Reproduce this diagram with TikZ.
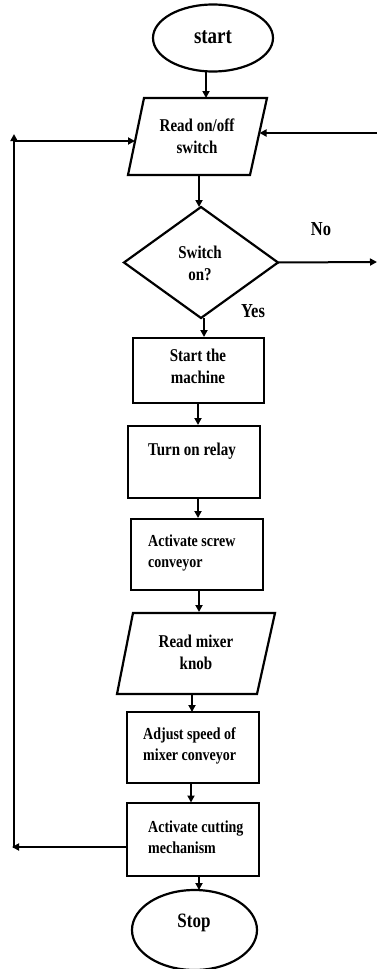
\documentclass[tikz,border=0pt]{standalone}
\usepackage{fontspec}
\usepackage{graphicx}
\setmainfont{Liberation Serif}
\usetikzlibrary{arrows.meta,shapes.geometric}
\newcommand\tallc[1]{\scalebox{1}[1.2]{\begin{tabular}{@{}c@{}}#1\end{tabular}}}
\newcommand\talll[1]{\scalebox{1}[1.2]{\begin{tabular}{@{}l@{}}#1\end{tabular}}}
\begin{document}
\begin{tikzpicture}[x=1pt,y=-1pt,
  arr/.style={line width=2pt,-{Triangle[length=7pt,width=7pt]}},
  shp/.style={draw,line width=2.2pt,inner sep=0pt,outer sep=0pt},
  boxnode/.style={shp,rectangle},
  big/.style={font=\bfseries\fontsize{15}{19}\selectfont,inner sep=0pt},
  small/.style={font=\bfseries\fontsize{14}{17.5}\selectfont,inner sep=0pt},
  tag/.style={font=\bfseries\fontsize{16.5}{20}\selectfont,inner sep=0pt}]
\useasboundingbox (0,0) rectangle (377,969);
\clip (0,0) rectangle (377,969);

% start
\node[shp,ellipse,minimum width=120pt,minimum height=67pt] (start) at (213,38) {};
\node[font=\bfseries\fontsize{19}{22}\selectfont,inner sep=0pt] (starttxt) at (213,38) {\tallc{start}};

% read on/off switch (parallelogram)
\coordinate (rTL) at (144,98);
\coordinate (rTR) at (267,98);
\coordinate (rBR) at (250,175);
\coordinate (rBL) at (128,175);
\draw[line width=2.2pt,line join=miter] (rTL) -- (rTR) -- (rBR) -- (rBL) -- cycle;
\node[big] (read) at (197,138) {\tallc{Read on/off\\switch}};
\coordinate (readin) at (206,98);
\coordinate (readout) at (199,175);
\coordinate (readL) at (135,141);
\coordinate (readR) at (259.5,133);

% decision
\node[shp,diamond,minimum width=154pt,minimum height=111pt] (dec) at (201,262.5) {};
\node[big] (dectxt) at (200,265) {\tallc{Switch\\on?}};
\node[tag] (no) at (321,231) {\tallc{No}};
\node[tag] (yes) at (253,313) {\tallc{Yes}};

% start machine
\node[boxnode,minimum width=131pt,minimum height=65pt] (machine) at (198.5,370.5) {};
\node[big] (machinetxt) at (198,368) {\tallc{Start the\\machine}};

% relay
\node[boxnode,minimum width=132pt,minimum height=72pt] (relay) at (194,462) {};
\node[big] (relaytxt) at (192,451) {\tallc{Turn on relay}};

% screw conveyor
\node[boxnode,minimum width=132pt,minimum height=71pt] (screw) at (197,554.5) {};
\node[small,anchor=west] (screwtxt) at (148,552.5) {\talll{Activate screw\\conveyor}};

% read mixer knob
\coordinate (mTL) at (133,613);
\coordinate (mTR) at (275,613);
\coordinate (mBR) at (257,694);
\coordinate (mBL) at (117,694);
\draw[line width=2.2pt,line join=miter] (mTL) -- (mTR) -- (mBR) -- (mBL) -- cycle;
\node[big] (mixer) at (196,654) {\tallc{Read mixer\\knob}};
\coordinate (mixin) at (199,612);
\coordinate (mixout) at (192,694);

% adjust speed
\node[boxnode,minimum width=132pt,minimum height=71pt] (adjust) at (193,747.5) {};
\node[small,anchor=west] (adjusttxt) at (143,745.5) {\talll{Adjust speed of\\mixer conveyor}};

% cutting
\node[boxnode,minimum width=132pt,minimum height=73pt] (cut) at (193,839.5) {};
\node[small,anchor=west] (cuttxt) at (148,838.5) {\talll{Activate cutting\\mechanism}};

% stop
\node[shp,ellipse,minimum width=125pt,minimum height=80pt] (stop) at (194.5,930) {};
\node[font=\bfseries\fontsize{17}{20}\selectfont,inner sep=0pt] (stoptxt) at (194,923) {\tallc{Stop}};

% loop coordinates
\coordinate (cutL) at (127,847);
\coordinate (loopB) at (12,847);
\coordinate (loopBv) at (14,848);
\coordinate (loopT) at (14,134);
\coordinate (loopTh) at (13,141);
\coordinate (noend) at (377,262);
\coordinate (rightin) at (377,133);

% connectors
\draw[arr] (start.south -| readin) -- (readin);
\draw[arr] (readout) -- (readout |- dec.north);
\draw[arr] (dec.east) -- (noend);
\draw[arr] (rightin) -- (readR);
\draw[arr] (dec.south -| 204,0) -- (204,337);
\draw[arr] (machine.south -| 198,0) -- (198,425);
\draw[arr] (relay.south -| 198,0) -- (198,518);
\draw[arr] (screw.south -| mixin) -- (mixin);
\draw[arr] (mixout) -- (mixout |- adjust.north);
\draw[arr] (adjust.south -| 191,0) -- (191,802.5);
\draw[arr] (cut.south -| 199,0) -- (199,890);
\draw[arr] (cutL) -- (loopB);
\draw[arr] (loopBv) -- (loopT);
\draw[arr] (loopTh) -- (readL);
\end{tikzpicture}
\end{document}
